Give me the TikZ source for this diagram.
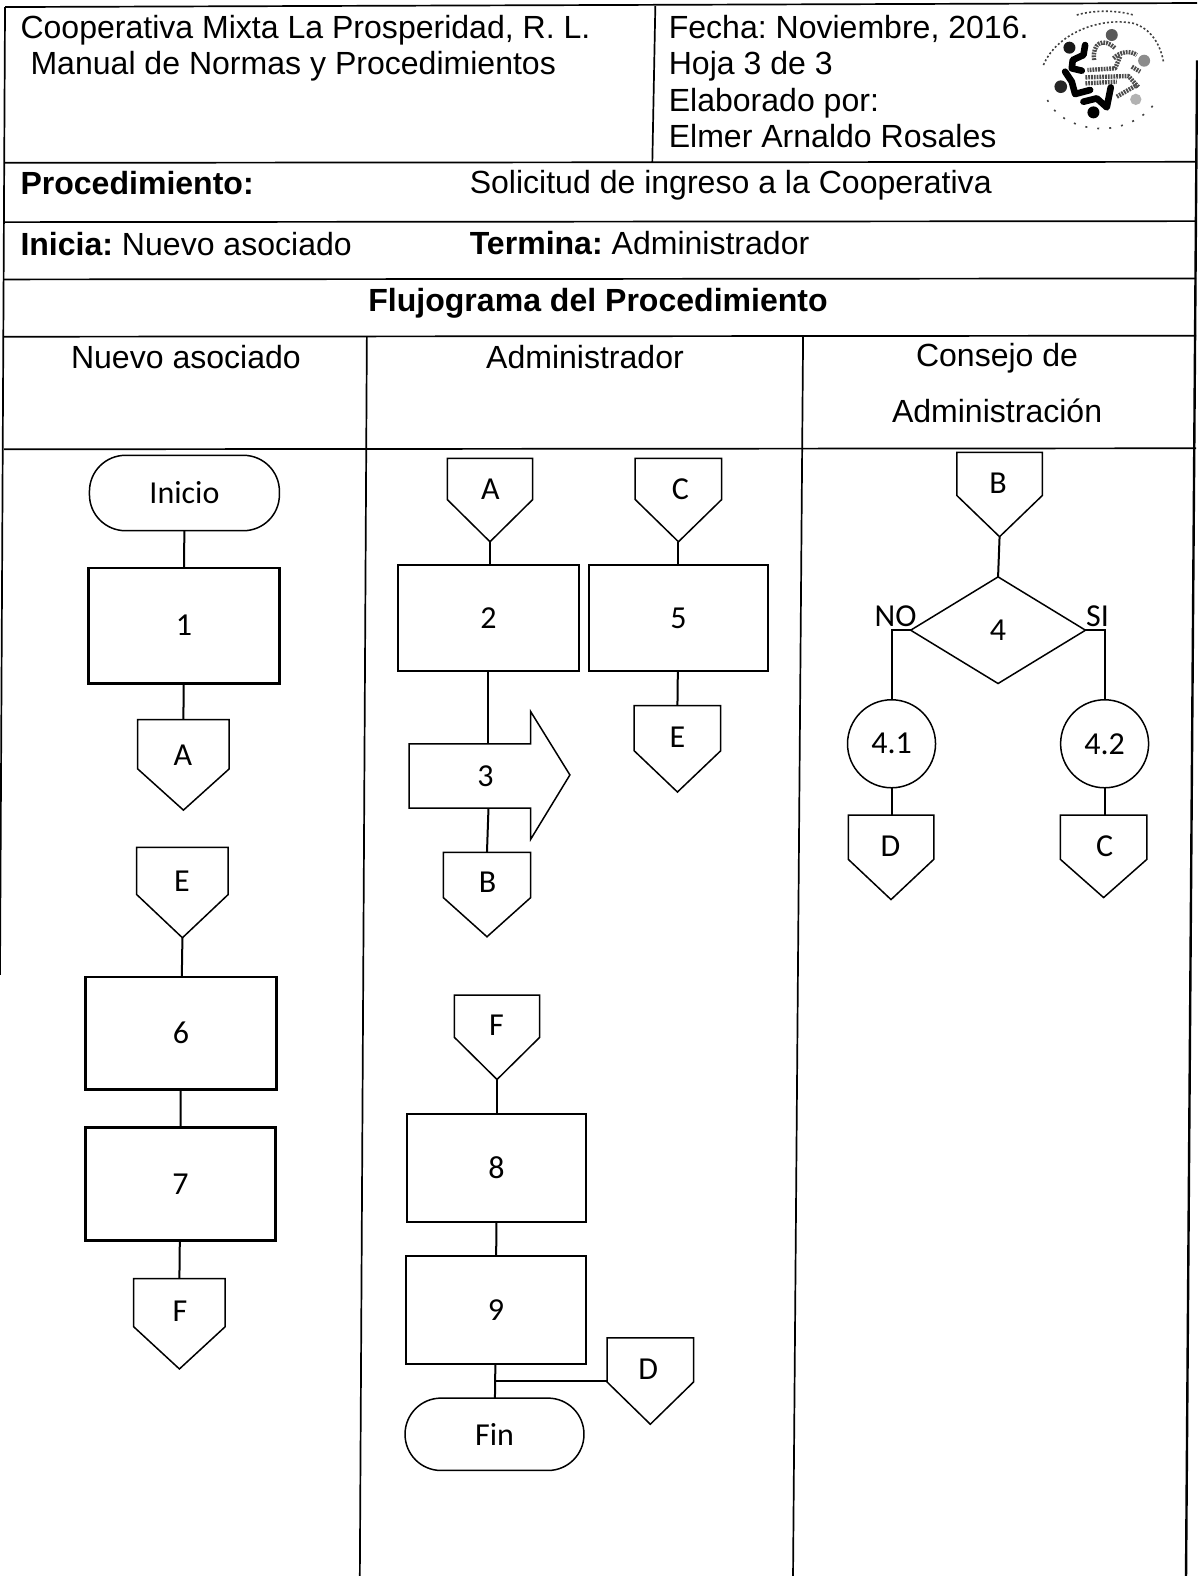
\documentclass[tikz,border=0pt]{standalone}
\usepackage{fontspec}
\setmainfont{Liberation Sans}
\newfontfamily\flowfont{Carlito}
\usetikzlibrary{shapes.geometric,calc}
\frenchspacing
\newcommand{\hdr}{\fontsize{16.02}{18}\selectfont}
\newcommand{\offp}[8]{%
  \draw[shapeline] (#2,#4) -- (#3,#4) -- (#3,#5) -- ({(#2+#3)/2},#6) -- (#2,#5) -- cycle;
  \coordinate (#1-t) at ({(#2+#3)/2},#4);
  \coordinate (#1-b) at ({(#2+#3)/2},#6);
  \node[flowlabel] (#1) at (#8) {#7};}
\newcommand{\flowbox}[7][]{%
  \node[boxstyle, #1, minimum width={(#4-#3)*0.5025pt}, minimum height={(#6-#5)*0.5025pt}]
    (#2) at ({(#3+#4)/2},{(#5+#6)/2}) {#7};}
\newcommand{\flowterm}[6]{%
  \node[shapeline, draw, flowlabel, rounded corners=18pt, minimum width={(#3-#2)*0.5025pt}, minimum height={(#5-#4)*0.5025pt}]
    (#1) at ({(#2+#3)/2},{(#4+#5)/2}) {#6};}
\tikzset{
  tablerule/.style={line width=0.85pt, black},
  shapeline/.style={line width=0.75pt, black, line join=miter},
  conn/.style={line width=1pt, black},
  flowlabel/.style={font=\flowfont\fontsize{16}{18}\selectfont, inner sep=0pt, outer sep=0pt},
  boxstyle/.style={draw, line width=0.95pt, flowlabel},
  heavybox/.style={line width=1.3pt},
  circstyle/.style={draw, circle, shapeline, flowlabel, minimum size=44pt},
  hdrtext/.style={font=\hdr, anchor=base west, inner sep=0pt},
  hdrcenter/.style={font=\hdr, anchor=base, inner sep=0pt},
  logoink/.style={line width=3.3pt, line cap=round, line join=round, black},
  logogray/.style={line width=2.2pt, line join=round, black!70, dash pattern=on 0.9pt off 0.5pt},
  logodot/.style={line width=0.8pt, black!75, dash pattern=on 1pt off 1.1pt}
}
\begin{document}
\begin{tikzpicture}[x=0.5025pt,y=-0.5025pt]
\useasboundingbox (0,0) rectangle (1191,1568);
% table
\coordinate (tl) at (5,7); \coordinate (tr) at (1191,3);
\coordinate (bl) at (0,970); \coordinate (rtop) at (1191,60); \coordinate (br) at (1180,1568);
\draw[tablerule] (tl) -- (tr);
\draw[tablerule] (tl) -- (bl);
\draw[line width=1.2pt] (rtop) -- (br);
\foreach \yy in {162,221,278,335,447}{
  \draw[tablerule] (4,\yy) -- (1190,\yy-1);
}
\draw[tablerule] (652,6) -- (649,162);
\draw[tablerule] (365,335) -- (358,1568);
\draw[tablerule] (799,335) -- (789,1568);
% header text
\node[hdrtext] (h1) at (20,38) {Cooperativa Mixta La Prosperidad, R. L.};
\node[hdrtext] (h2) at (30,74) {Manual de Normas y Procedimientos};
\node[hdrtext] (h3) at (665,38) {Fecha: Noviembre, 2016.};
\node[hdrtext] (h4) at (665,74) {Hoja 3 de 3};
\node[hdrtext] (h5) at (665,111) {Elaborado por:};
\node[hdrtext] (h6) at (665,147) {Elmer Arnaldo Rosales};
\node[hdrtext] (h7) at (20,194) {\bfseries Procedimiento:};
\node[hdrtext] (h8) at (467,193) {Solicitud de ingreso a la Cooperativa};
\node[hdrtext] (h9) at (20,254) {\bfseries Inicia: \mdseries Nuevo asociado};
\node[hdrtext] (h10) at (467,253) {\bfseries Termina: \mdseries Administrador};
\node[hdrcenter] (h11) at (595,310) {\bfseries Flujograma del Procedimiento};
\node[hdrcenter] (h12) at (185,367) {Nuevo asociado};
\node[hdrcenter] (h13) at (582,367) {Administrador};
\node[hdrcenter] (h14) at (992,365) {Consejo de};
\node[hdrcenter] (h15) at (992,420) {Administración};
% logo
\begin{scope}[shift={(995,0)},x=0.1667pt,y=-0.1667pt]
\foreach \cx/\cy/\r/\g in {208/143/18/90,182/260/19/85,280/337/18/100,335/105/18/65,432/182/18/45,407/298/17/30}{
  \fill[black!\g] (\cx,\cy) circle[radius=\r];
}
\draw[logoink] (255,135) -- (250,165) -- (218,180) -- (215,205) -- (245,212);
\draw[logoink] (195,215) -- (215,245) -- (225,282) -- (270,270);
\draw[logoink] (250,305) -- (290,295) -- (320,322) -- (332,262);
\draw[logogray] (282,180) .. controls (275,130) and (310,110) .. (345,145);
\draw[logogray] (340,175) .. controls (360,155) and (390,150) .. (410,165);
\draw[logogray] (360,170) -- (345,205) -- (262,210);
\draw[logogray] (256,232) -- (385,228) -- (415,262);
\draw[logogray] (256,250) -- (350,245);
\draw[logogray] (395,200) -- (420,215);
\draw[logogray] (350,290) -- (410,255);
\draw[logodot] (130,195) .. controls (170,100) and (300,50) .. (400,70) .. controls (450,85) and (480,130) .. (490,185);
\draw[logodot] (230,45) .. controls (280,30) and (350,30) .. (400,45);
\draw[logodot, dash pattern=on 1pt off 5pt] (142,300) .. controls (170,360) and (250,390) .. (320,385) .. controls (380,380) and (440,350) .. (470,300);
\end{scope}
% column 1
\flowterm{inicio}{89}{278}{453}{528}{Inicio}
\flowbox[heavybox]{b1}{88}{278}{565}{680}{1}
\offp{a1}{137}{228}{716}{765}{806}{A}{182,751}
\offp{e1}{136}{227}{843}{890}{933}{E}{181,877}
\flowbox[heavybox]{b6}{85}{275}{972}{1084}{6}
\flowbox[heavybox]{b7}{85}{274}{1122}{1234}{7}
\offp{f1}{133}{224}{1272}{1320}{1362}{F}{179,1305}
\draw[conn] (inicio) -- (b1);
\draw[conn] (b1) -- (a1-t);
\draw[conn] (e1-b) -- (b6);
\draw[conn] (b6) -- (b7);
\draw[conn] (b7) -- (f1-t);
% column 2
\offp{a2}{445}{530}{456}{497}{539}{A}{488,487}
\offp{c2}{632}{718}{456}{497}{539}{C}{677,487}
\flowbox{b2}{396}{576}{562}{668}{2}
\flowbox{b5}{586}{764}{562}{668}{5}
\offp{e2}{631}{717}{702}{747}{788}{E}{674,733}
\draw[shapeline] (407,740) -- (528,740) -- (528,708) -- (567,771) -- (528,835) -- (528,804) -- (407,804) -- cycle;
\coordinate (a3t) at (486,740); \coordinate (a3b) at (486,804);
\node[flowlabel] (n3) at (483,772) {3};
\offp{b3}{441}{528}{848}{893}{932}{B}{485,878}
\offp{f2}{452}{537}{990}{1032}{1074}{F}{494,1020}
\flowbox{b8}{405}{583}{1108}{1216}{8}
\flowbox{b9}{404}{583}{1250}{1357}{9}
\flowterm{fin}{403}{581}{1391}{1463}{Fin}
\offp{d2}{604}{690}{1331}{1375}{1417}{D}{645,1362}
\coordinate (dj) at (492,1374); \coordinate (dl) at (604,1374);
\draw[conn] (a2-b) -- (b2.north -| a2-b);
\draw[conn] (c2-b) -- (b5.north -| c2-b);
\draw[conn] (b5) -- (e2-t);
\draw[conn] (b2) -- (a3t);
\draw[conn] (a3b) -- (b3-t);
\draw[conn] (f2-b) -- (b8.north -| f2-b);
\draw[conn] (b8) -- (b9);
\draw[conn] (b9) -- (fin);
\draw[conn] (dj) -- (dl);
% column 3
\offp{b4}{952}{1037}{450}{493}{534}{B}{993,481}
\node[diamond, draw, shapeline, flowlabel, aspect=1.64, minimum width=87.4pt, minimum height=53.3pt] (dec) at (993,627) {4};
\node[circstyle] (c41) at (887,740) {4.1};
\node[circstyle] (c42) at (1099,740) {4.2};
\offp{d4}{844}{929}{811}{855}{895}{D}{886,842}
\offp{c4}{1055}{1141}{811}{855}{893}{C}{1099,842}
\node[flowlabel] (no) at (891,613) {NO};
\node[flowlabel] (si) at (1092,613) {SI};
\draw[conn] (b4-b) -- (dec.north);
\draw[conn] (dec.west) -- (dec.west -| c41.north) -- (c41.north);
\draw[conn] (dec.east) -- (dec.east -| c42.north) -- (c42.north);
\draw[conn] (c41) -- (c41 |- d4-t);
\draw[conn] (c42) -- (c42 |- c4-t);
\end{tikzpicture}
\end{document}
